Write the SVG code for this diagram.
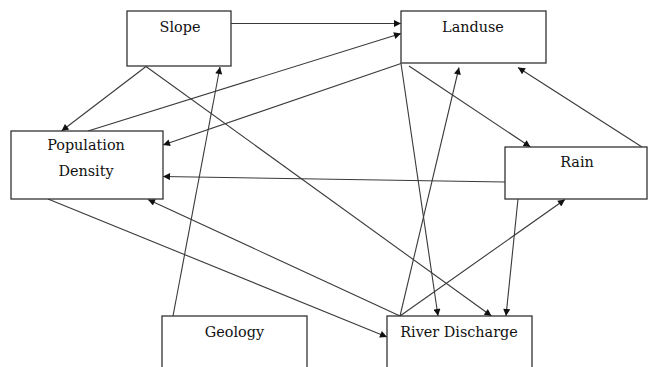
<svg xmlns="http://www.w3.org/2000/svg" width="648" height="367" viewBox="0 0 648 367">
  <style>
    .box { fill: #ffffff; stroke: #333333; stroke-width: 1.3; }
    .label { font-family: 'DejaVu Serif', serif; font-size: 14.4px; fill: #111111; text-anchor: middle; }
    .edge { fill: none; stroke: #3a3a3a; stroke-width: 1.1; marker-end: url(#arrow); }
  </style>
  <defs>
    <marker id="arrow" viewBox="0 0 10 10" refX="10" refY="5" markerWidth="9" markerHeight="7" markerUnits="userSpaceOnUse" orient="auto">
      <path d="M0,0 L10,5 L0,10 z" fill="#111111"/>
    </marker>
  </defs>
  <rect width="648" height="367" fill="#ffffff"/>

  <g id="connectors">
    <path class="edge" d="M231,23.5 L401,23.5"/>
    <path class="edge" d="M146,66.5 L61.5,131"/>
    <path class="edge" d="M146,66.5 L491.5,316"/>
    <path class="edge" d="M88,131 L401,33.5"/>
    <path class="edge" d="M401,63.5 L163,145"/>
    <path class="edge" d="M505,182 L163,176.5"/>
    <path class="edge" d="M401,63.5 L438,316"/>
    <path class="edge" d="M409,66 L530.5,147"/>
    <path class="edge" d="M642,147 L518,67.5"/>
    <path class="edge" d="M400,316 L459,67.5"/>
    <path class="edge" d="M400,316 L565,199.5"/>
    <path class="edge" d="M400,316 L148,199.5"/>
    <path class="edge" d="M48,199 L387,337"/>
    <path class="edge" d="M173,316 L220,67"/>
    <path class="edge" d="M518,199 L506,316"/>
  </g>

  <g id="slope">
    <rect class="box" x="127" y="11" width="104" height="55"/>
    <text class="label" x="180" y="32">Slope</text>
  </g>
  <g id="landuse">
    <rect class="box" x="401" y="11" width="145" height="52"/>
    <text class="label" x="473" y="32">Landuse</text>
  </g>
  <g id="population-density">
    <rect class="box" x="11" y="131" width="152" height="68"/>
    <text class="label" x="86" y="150">Population</text>
    <text class="label" x="86" y="176">Density</text>
  </g>
  <g id="rain">
    <rect class="box" x="505" y="147" width="142" height="52"/>
    <text class="label" x="577" y="167">Rain</text>
  </g>
  <g id="geology">
    <rect class="box" x="162" y="316" width="145" height="60"/>
    <text class="label" x="234.5" y="337">Geology</text>
  </g>
  <g id="river-discharge">
    <rect class="box" x="387" y="316" width="145" height="60"/>
    <text class="label" x="459" y="337">River Discharge</text>
  </g>
</svg>
